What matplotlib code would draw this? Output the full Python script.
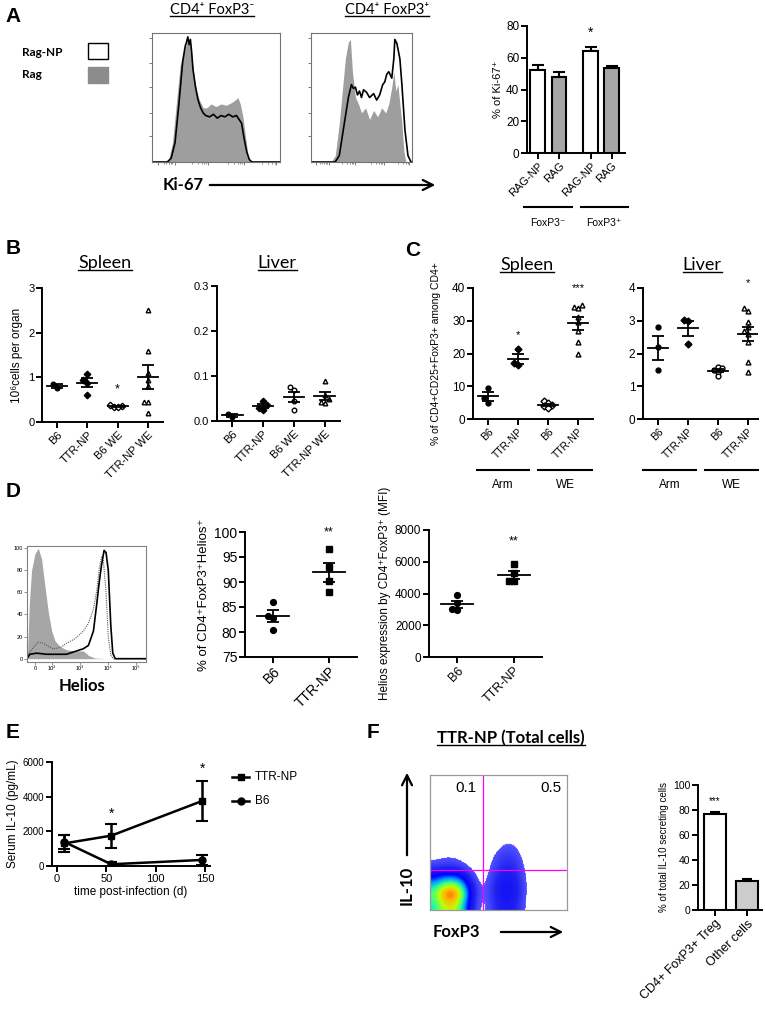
import numpy as np
import matplotlib.pyplot as plt
from matplotlib.lines import Line2D
from matplotlib.patches import Rectangle
from matplotlib.colors import LinearSegmentedColormap

plt.rcParams['font.family'] = ['Liberation Sans', 'DejaVu Sans']
CAL = ['Lato', 'DejaVu Sans']

# ---------------- data ----------------
# A: Ki-67 histograms (x = fraction of the Ki-67 axis, y = fraction of max)
ki1_rag_x = [0, .10, .13, .16, .19, .22, .25, .27, .28, .29, .30, .31, .33, .35, .37, .40, .43, .46,
             .50, .54, .58, .62, .65, .67, .69, .71, .73, .75, .77, 1.0]
ki1_rag_y = [0, 0, .02, .15, .45, .75, .85, .92, .95, .93, .90, .82, .65, .55, .48, .42, .42, .45,
             .43, .45, .44, .46, .48, .50, .45, .35, .20, .05, 0, 0]
ki1_np_x = [0, .12, .15, .18, .21, .24, .26, .27, .28, .29, .30, .31, .32, .34, .36, .38, .40, .42,
            .45, .48, .51, .54, .57, .60, .63, .66, .68, .70, .72, .74, .76, .78, 1.0]
ki1_np_y = [0, 0, .03, .15, .45, .78, .90, .93, .97, .91, .95, .85, .72, .58, .48, .42, .38, .36,
            .35, .37, .34, .36, .35, .37, .35, .36, .33, .30, .18, .08, .02, 0, 0]
ki2_rag_x = [0, .20, .24, .28, .31, .34, .37, .39, .41, .44, .47, .50, .54, .58, .62, .66, .70,
             .74, .77, .80, .82, .84, .86, .88, .90, .92, .94, 1.0]
ki2_rag_y = [0, 0, .05, .30, .55, .80, .93, .95, .70, .50, .45, .38, .42, .33, .40, .35, .42,
             .38, .45, .58, .70, .55, .60, .45, .30, .08, 0, 0]
ki2_np_x = [0, .24, .28, .32, .35, .37, .40, .42, .44, .46, .48, .50, .52, .55, .58, .62, .65,
            .68, .71, .73, .75, .77, .80, .82, .83, .85, .86, .88, .90, .93, .96, .99, 1.0]
ki2_np_y = [0, 0, .05, .25, .40, .50, .60, .57, .58, .52, .55, .50, .56, .54, .50, .53, .48,
            .52, .60, .62, .68, .70, .65, .80, .95, .92, .88, .80, .60, .25, .05, 0, 0]
ki_labels = ['RAG-NP', 'RAG', 'RAG-NP', 'RAG']
ki_vals = [52, 48, 64, 53.5]
ki_err = [3.5, 3, 2.5, 1]

# B: 10^6 cells per organ
b_groups = ['B6', 'TTR-NP', 'B6 WE', 'TTR-NP WE']
spleen_b6 = [0.76, 0.86]
spleen_ttr = [1.07, 0.95, 0.88, 0.60]
spleen_b6we = [0.37, 0.34, 0.35, 0.33]
spleen_ttrwe = [2.5, 1.6, 1.1, 0.95, 0.8, 0.45, 0.45, 0.2]
liver_b6 = [0.010, 0.015]
liver_ttr = [0.045, 0.036, 0.030, 0.025]
liver_b6we = [0.075, 0.068, 0.045, 0.025]
liver_ttrwe = [0.088, 0.058, 0.050, 0.042, 0.040]

# C: % CD4+CD25+FoxP3+ among CD4+
c_groups = ['B6', 'TTR-NP', 'B6', 'TTR-NP']
cs_b6 = [9.5, 6.3, 4.9]
cs_ttr = [21.5, 17.2, 16.5]
cs_b6we = [5.4, 4.8, 4.3, 3.9, 3.3]
cs_ttrwe = [34.8, 34.2, 33.8, 31.0, 29.5, 27.0, 23.5, 20.0]
cl_b6 = [2.8, 2.2, 1.5]
cl_ttr = [3.02, 2.98, 2.3]
cl_b6we = [1.6, 1.55, 1.5, 1.45, 1.3]
cl_ttrwe = [3.4, 3.3, 2.95, 2.8, 2.7, 2.6, 2.35, 1.75, 1.45]

# D: Helios histogram (x in decades, 0 drawn at 1.39) and dot plots
helios_iso_x = [1.10, 1.12, 1.19, 1.27, 1.39, 1.51, 1.63, 1.75, 1.87, 1.99, 2.11, 2.29, 2.52, 2.82,
                3.12, 3.30, 3.54, 3.95, 5.36]
helios_iso_y = [0, 0, 50, 80, 95, 100, 90, 65, 42, 25, 16, 11, 8, 7, 7, 3, 0.5, 0, 0]
helios_dot_x = [1.10, 1.15, 1.33, 1.51, 1.69, 1.87, 2.05, 2.29, 2.52, 2.82, 3.12, 3.30, 3.48, 3.60,
                3.69, 3.77, 3.83, 3.93, 4.01, 4.10, 4.19, 5.36]
helios_dot_y = [0, 4, 10, 15, 14, 11, 9, 10, 14, 18, 25, 32, 45, 62, 82, 92, 90, 60, 20, 3, 0, 0]
helios_ttr_x = [1.10, 1.21, 1.45, 1.81, 2.17, 2.52, 2.88, 3.12, 3.30, 3.48, 3.60, 3.69, 3.77, 3.86,
                3.93, 4.01, 4.10, 4.17, 4.26, 5.36]
helios_ttr_y = [0, 4, 5, 4, 4, 4, 7, 9, 12, 25, 50, 70, 85, 98, 96, 80, 30, 5, 0, 0]
d_groups = ['B6', 'TTR-NP']
helios_pct_b6 = [86.1, 83.2, 82.9, 80.4]
helios_pct_ttr = [96.6, 93.0, 90.2, 88.0]
helios_mfi_b6 = [3900, 3400, 3050, 2950]
helios_mfi_ttr = [5870, 5300, 4800, 4780]

# E: serum IL-10
e_days = [7, 55, 147]
e_ttr = [1300, 1750, 3750]
e_ttr_err = [500, 700, 1150]
e_b6 = [1400, 100, 350]
e_b6_err = [400, 150, 300]

# F: IL-10 vs FoxP3 event density (rows top -> bottom) and bar chart
il10_grid = [
    [0, 0, 0, 0, 0, 0, 0, 0, 0, 0, 0, 0],
    [0, 0, 0, 0, 0, 0, 0, 0, 0, 0, 0, 0],
    [0, 0, 0, 0, 0, 0, 0, 0, 0, 0, 0, 0],
    [0, 0, 0, 0, 0, 0, 0, 0, 0, 0, 0, 0],
    [0, 0, 0, 0, 0, 0, 0, 0, 0, 0, 0, 0],
    [0, 0, 0, 0, 0, 0, 0.5, 0.4, 0, 0, 0, 0],
    [0.3, 0.4, 0.3, 0, 0, 0.4, 1.0, 0.9, 0.2, 0, 0, 0],
    [0.6, 0.8, 0.7, 0.3, 0, 0.8, 1.4, 1.2, 0.4, 0, 0, 0],
    [1.5, 1.8, 1.6, 0.9, 0.2, 1.0, 1.8, 1.6, 0.5, 0, 0, 0],
    [4.0, 5.5, 5.0, 1.8, 0.3, 1.3, 2.2, 1.9, 0.6, 0, 0, 0],
    [6.0, 10.0, 9.0, 2.5, 0.4, 1.4, 2.4, 2.0, 0.6, 0, 0, 0],
    [5.0, 7.5, 6.5, 2.0, 0.3, 1.2, 2.0, 1.7, 0.5, 0, 0, 0],
]
gate_x, gate_y = 0.387, 0.296
quad_labels = ['0.1', '0.5']
f_labels = ['CD4+ FoxP3+ Treg', 'Other cells']
f_vals = [77, 23]
f_err = [1.5, 1.5]

# ---------------- helpers ----------------
W, H = 765, 1019
fig = plt.figure(figsize=(W / 100, H / 100), dpi=100)
underlined = []


def px_axes(x0, y0, x1, y1):
    return fig.add_axes([x0 / W, 1 - y1 / H, (x1 - x0) / W, (y1 - y0) / H])


def ftext(x, y, s, **kw):
    return fig.text(x / W, 1 - y / H, s, **kw)


def fline(x0, x1, y0, y1, **kw):
    fig.add_artist(Line2D([x0 / W, x1 / W], [1 - y0 / H, 1 - y1 / H],
                          transform=fig.transFigure, **kw))


def farrow(x0, y0, x1, y1):
    fig.add_artist(plt.matplotlib.patches.FancyArrowPatch(
        (x0 / W, 1 - y0 / H), (x1 / W, 1 - y1 / H), transform=fig.transFigure,
        arrowstyle='->', mutation_scale=18, lw=1.6, color='black'))


def prism(ax, lw=1.4, fs=7.5):
    for s in ['top', 'right']:
        ax.spines[s].set_visible(False)
    for s in ['left', 'bottom']:
        ax.spines[s].set_linewidth(lw)
    ax.tick_params(width=lw, length=4, direction='out', labelsize=fs, pad=1.5)


def swarm(vals, tol, w):
    offs = np.zeros(len(vals))
    placed = []
    for i in np.argsort(vals):
        for c in [0, -1, 1, -2, 2, -3, 3]:
            if all(abs(vals[i] - vals[j]) > tol or abs(c * w - offs[j]) > w * 0.9 for j in placed):
                offs[i] = c * w
                break
        placed.append(i)
    return offs


def dots(ax, pos, vals, marker, filled, ms=3.6, tol=0.1, w=0.13, half=0.33):
    vals = np.asarray(vals, float)
    offs = swarm(vals, tol, w)
    ax.plot(pos + offs, vals, ls='none', marker=marker, ms=ms, mew=1.0,
            mfc='black' if filled else 'white', mec='black', zorder=3)
    m = vals.mean()
    se = vals.std(ddof=1) / np.sqrt(len(vals))
    ax.plot([pos - half, pos + half], [m, m], color='black', lw=1.3, zorder=4)
    ax.errorbar(pos, m, yerr=se, color='black', lw=1.3, capsize=4, capthick=1.3, zorder=4)


def letter(x, y, s):
    ftext(x, y, s, fontsize=15, fontweight='bold', va='center', ha='left')


def title(x, y, s, fs=13, weight='normal'):
    t = ftext(x, y, s, fontsize=fs, family=CAL, fontweight=weight, ha='center', va='center')
    underlined.append(t)


def rot_labels(ax, labels, fs):
    ax.set_xticklabels(labels, rotation=45, ha='right', rotation_mode='anchor', fontsize=fs)


# ---------------- panel A ----------------
letter(5, 16, 'A')
title(212, 10, 'CD4⁺ FoxP3⁻', fs=10.5)
title(387, 10, 'CD4⁺ FoxP3⁺', fs=10.5)
ftext(22, 52, 'Rag-NP', fontsize=8.5, family=CAL, fontweight='bold', va='center')
ftext(22, 74, 'Rag', fontsize=8.5, family=CAL, fontweight='bold', va='center')
fig.add_artist(Rectangle((88 / W, 1 - 59 / H), 20 / W, 16 / H, transform=fig.transFigure,
                         fc='white', ec='black', lw=1))
fig.add_artist(Rectangle((88 / W, 1 - 83 / H), 20 / W, 16 / H, transform=fig.transFigure,
                         fc='0.55', ec='0.55', lw=1))

for (x0, x1), rx, ry, nx, ny in [((152, 280), ki1_rag_x, ki1_rag_y, ki1_np_x, ki1_np_y),
                                  ((311, 412), ki2_rag_x, ki2_rag_y, ki2_np_x, ki2_np_y)]:
    ax = px_axes(x0, 33, x1, 162)
    ax.fill_between(rx, ry, color='0.62', lw=0)
    ax.plot(nx, ny, color='black', lw=1.2)
    ax.set_xlim(0, 1)
    ax.set_ylim(0, 1)
    for s in ax.spines.values():
        s.set_color('0.45')
        s.set_linewidth(0.8)
    ax.set_yticks([0.2, 0.38, 0.58, 0.77, 0.96])
    ax.set_xticks([0.05, 0.18, 0.44, 0.72, 0.97])
    ax.set_xticks([0.09, 0.11, 0.13, 0.15, 0.16, 0.31, 0.36, 0.39, 0.41, 0.42, 0.59, 0.64,
                   0.67, 0.69, 0.70, 0.86, 0.91, 0.94, 0.96], minor=True)
    ax.tick_params(length=2.5, width=0.6, color='0.4', labelleft=False, labelbottom=False)
    ax.tick_params(which='minor', length=1.5, width=0.5, color='0.4')

ftext(163, 185, 'Ki-67', fontsize=12, family=CAL, fontweight='bold', va='center')
farrow(207, 185, 438, 185)

ax = px_axes(527, 26, 625, 153)
prism(ax, fs=8.5)
ki_pos = [0, 1, 2.5, 3.5]
ki_col = ['white', '0.65', 'white', '0.65']
ax.bar(ki_pos, ki_vals, width=0.71, color=ki_col, edgecolor='black', lw=1.5, zorder=2)
ax.errorbar(ki_pos, ki_vals, yerr=[[0] * 4, ki_err], fmt='none', ecolor='black', lw=1.5,
            capsize=4, capthick=1.5, zorder=1)
ax.text(2.5, 76, '*', ha='center', va='center', fontsize=10)
ax.set_xlim(-0.52, 4.14)
ax.set_ylim(0, 80)
ax.set_yticks([0, 20, 40, 60, 80])
ax.set_xticks(ki_pos)
rot_labels(ax, ki_labels, 8)
ax.set_ylabel('% of Ki-67⁺', fontsize=8, labelpad=2)
fline(524, 572, 207, 207, color='black', lw=1.5)
fline(581, 628, 207, 207, color='black', lw=1.5)
ftext(548, 223, 'FoxP3⁻', fontsize=7.5, ha='center', va='center')
ftext(604, 223, 'FoxP3⁺', fontsize=7.5, ha='center', va='center')

# ---------------- panel B ----------------
letter(6, 249, 'B')
title(105, 263, 'Spleen')
title(277, 263, 'Liver')
b_sets = [((42, 288, 163, 422), 3, [0, 1, 2, 3], [spleen_b6, spleen_ttr, spleen_b6we, spleen_ttrwe]),
          ((217, 286, 340, 421), 0.3, [0.0, 0.1, 0.2, 0.3], [liver_b6, liver_ttr, liver_b6we, liver_ttrwe])]
b_marks = [[('o', True), ('D', True), ('D', False), ('^', False)],
           [('o', True), ('D', True), ('o', False), ('^', False)]]
for k, (box, top, yt, groups) in enumerate(b_sets):
    ax = px_axes(*box)
    prism(ax, fs=8)
    for i, vals in enumerate(groups):
        mk, fill = b_marks[k][i]
        dots(ax, i, vals, mk, fill, ms=3.3, tol=top * 0.04, w=0.13)
    ax.set_xlim(-0.5, 3.5)
    ax.set_ylim(0, top)
    ax.set_yticks(yt)
    if k == 1:
        ax.set_yticklabels(['0.0', '0.1', '0.2', '0.3'])
    ax.set_xticks(range(4))
    rot_labels(ax, b_groups, 8)
    if k == 0:
        ax.text(2, 0.72, '*', ha='center', va='center', fontsize=9)
        ax.set_ylabel('10⁶cells per organ', fontsize=8.5, labelpad=4)

# ---------------- panel C ----------------
letter(405, 250, 'C')
title(527, 265, 'Spleen')
title(702, 265, 'Liver')
c_sets = [((473, 288, 593, 419), 40, [0, 10, 20, 30, 40], [cs_b6, cs_ttr, cs_b6we, cs_ttrwe], (-0.5, 3.5)),
          ((643, 288, 758, 419), 4, [0, 1, 2, 3, 4], [cl_b6, cl_ttr, cl_b6we, cl_ttrwe], (-0.5, 3.33))]
c_marks = [[('o', True), ('D', True), ('D', False), ('^', False)],
           [('o', True), ('D', True), ('o', False), ('^', False)]]
for k, (box, top, yt, groups, xl) in enumerate(c_sets):
    ax = px_axes(*box)
    prism(ax, fs=8.5)
    for i, vals in enumerate(groups):
        mk, fill = c_marks[k][i]
        dots(ax, i, vals, mk, fill, ms=3.5, tol=top * 0.035, w=0.14)
    ax.set_xlim(*xl)
    ax.set_ylim(0, top)
    ax.set_yticks(yt)
    ax.set_xticks(range(4))
    rot_labels(ax, c_groups, 7.5)
    if k == 0:
        ax.text(1, 25.5, '*', ha='center', va='center', fontsize=8)
        ax.text(3, 40, '***', ha='center', va='center', fontsize=8)
        ax.set_ylabel('% of CD4+CD25+FoxP3+ among CD4+', fontsize=7.5, labelpad=8)
    else:
        ax.text(3, 4.15, '*', ha='center', va='center', fontsize=8)
for (a0, a1), (w0, w1) in [((477, 529), (538, 592)), ((643, 696), (705, 758))]:
    fline(a0, a1, 470, 470, color='black', lw=1.5)
    fline(w0, w1, 470, 470, color='black', lw=1.5)
    ftext((a0 + a1) / 2, 485, 'Arm', fontsize=8.5, ha='center', va='center')
    ftext((w0 + w1) / 2, 485, 'WE', fontsize=8.5, ha='center', va='center')

# ---------------- panel D ----------------
letter(6, 492, 'D')
ax = px_axes(27, 546, 146, 662)
ax.fill_between(helios_iso_x, helios_iso_y, color='0.65', lw=0)
ax.plot(helios_dot_x, helios_dot_y, color='0.35', lw=0.8, ls=(0, (1, 1)))
ax.plot(helios_ttr_x, helios_ttr_y, color='black', lw=1.2)
ax.set_xlim(1.107, 5.357)
ax.set_ylim(-3, 102)
for s in ax.spines.values():
    s.set_color('0.5')
    s.set_linewidth(0.8)
ax.set_xticks([1.39, 2, 3, 4, 5])
ax.set_xticklabels(['0', '10²', '10³', '10⁴', '10⁵'])
ax.set_yticks([0, 20, 40, 60, 80, 100])
ax.tick_params(labelsize=4, length=2, width=0.5, color='0.4', pad=1)
ftext(82, 686, 'Helios', fontsize=12, family=CAL, fontweight='bold', ha='center', va='center')

ax = px_axes(245, 532, 357, 657)
prism(ax, fs=10)
dots(ax, 0, helios_pct_b6, 'o', True, ms=4.2, tol=0.9, w=0.09, half=0.28)
dots(ax, 1, helios_pct_ttr, 's', True, ms=4.2, tol=0.9, w=0.09, half=0.28)
ax.text(1, 100, '**', ha='center', va='center', fontsize=9)
ax.set_xlim(-0.5, 1.5)
ax.set_ylim(75, 100)
ax.set_yticks([75, 80, 85, 90, 95, 100])
ax.set_xticks([0, 1])
rot_labels(ax, d_groups, 10)
ax.set_ylabel('% of CD4⁺FoxP3⁺Helios⁺', fontsize=9.5, labelpad=3)

ax = px_axes(429, 530, 542, 657)
prism(ax, fs=8.5)
dots(ax, 0, helios_mfi_b6, 'o', True, ms=4.2, tol=200, w=0.09, half=0.28)
dots(ax, 1, helios_mfi_ttr, 's', True, ms=4.2, tol=200, w=0.09, half=0.28)
ax.text(1, 7300, '**', ha='center', va='center', fontsize=9)
ax.set_xlim(-0.5, 1.5)
ax.set_ylim(0, 8000)
ax.set_yticks([0, 2000, 4000, 6000, 8000])
ax.set_xticks([0, 1])
rot_labels(ax, d_groups, 9)
ax.set_ylabel('Helios expression by CD4⁺FoxP3⁺ (MFI)', fontsize=8.5, labelpad=3)

# ---------------- panel E ----------------
letter(6, 733, 'E')
ax = px_axes(52, 762, 210, 866)
prism(ax, fs=7)
ax.errorbar(e_days, e_ttr, yerr=e_ttr_err, color='black', lw=1.8, marker='s', ms=5,
            capsize=4, capthick=1.5)
ax.errorbar(e_days, e_b6, yerr=e_b6_err, color='black', lw=1.8, marker='o', ms=5,
            capsize=4, capthick=1.5)
ax.text(55, 3000, '*', ha='center', va='center', fontsize=10)
ax.text(147, 5600, '*', ha='center', va='center', fontsize=10)
ax.set_xlim(-5, 155)
ax.set_ylim(0, 6000)
ax.set_xticks([0, 50, 100, 150])
ax.set_yticks([0, 2000, 4000, 6000])
ax.tick_params(axis='x', labelsize=8)
ax.set_xlabel('time post-infection (d)', fontsize=8.5, labelpad=2)
ax.set_ylabel('Serum IL-10 (pg/mL)', fontsize=8.5, labelpad=3)
for yy, mk, lab in [(777, 's', 'TTR-NP'), (801, 'o', 'B6')]:
    fig.add_artist(Line2D([232 / W, 249 / W], [1 - yy / H] * 2, transform=fig.transFigure,
                          color='black', lw=1.8))
    fig.add_artist(Line2D([240.5 / W], [1 - yy / H], transform=fig.transFigure,
                          color='black', marker=mk, ms=5, ls='none'))
    ftext(255, yy, lab, fontsize=8.5, va='center')

# ---------------- panel F ----------------
letter(367, 732, 'F')
title(511, 738, 'TTR-NP (Total cells)', fs=12, weight='bold')
ax = px_axes(430, 775, 567, 910)
cmap = LinearSegmentedColormap.from_list('flow', [
    (0.0, 'white'), (0.07, 'white'), (0.075, '#5050ff'), (0.16, '#2020f0'), (0.30, '#0000ff'),
    (0.42, '#00a0ff'), (0.55, '#30ff90'), (0.68, '#c0ff00'), (0.80, '#ffb000'),
    (0.92, '#ff2000'), (1.0, '#c00000')])
ax.imshow(il10_grid, extent=[0, 1, 0, 1], origin='upper', cmap=cmap, vmin=0, vmax=10,
          interpolation='bicubic', interpolation_stage='data', aspect='auto')
ax.axvline(gate_x, color='magenta', lw=0.9)
ax.axhline(gate_y, color='magenta', lw=0.9)
ax.text(0.26, 0.9, quad_labels[0], fontsize=11, ha='center', va='center')
ax.text(0.88, 0.9, quad_labels[1], fontsize=11, ha='center', va='center')
ax.set_xlim(0, 1)
ax.set_ylim(0, 1)
ax.set_xticks([])
ax.set_yticks([])
for s in ax.spines.values():
    s.set_color('0.6')
    s.set_linewidth(0.9)
farrow(407, 858, 407, 770)
ftext(407, 885, 'IL-10', fontsize=12, family=CAL, fontweight='bold', rotation=90,
      ha='center', va='center')
ftext(433, 932, 'FoxP3', fontsize=12, family=CAL, fontweight='bold', va='center')
farrow(498, 932, 566, 932)

ax = px_axes(698, 785, 762, 910)
prism(ax, fs=7.5)
ax.bar([0, 1], f_vals, width=0.66, color=['white', '0.8'], edgecolor='black', lw=1.5, zorder=2)
ax.errorbar([0, 1], f_vals, yerr=[[0, 0], f_err], fmt='none', ecolor='black', lw=1.5,
            capsize=3.5, capthick=1.5, zorder=1)
ax.text(0, 87, '***', ha='center', va='center', fontsize=7)
ax.set_xlim(-0.53, 1.47)
ax.set_ylim(0, 100)
ax.set_yticks([0, 20, 40, 60, 80, 100])
ax.set_xticks([0, 1])
rot_labels(ax, f_labels, 9)
ax.set_ylabel('% of total IL-10 secreting cells', fontsize=7, labelpad=3)

# underlines
fig.canvas.draw()
rend = fig.canvas.get_renderer()
for t in underlined:
    bb = t.get_window_extent(rend)
    fig.add_artist(Line2D([bb.x0 / W, bb.x1 / W], [(bb.y0 + 1) / H] * 2,
                          transform=fig.transFigure, color='black', lw=1.0))

fig.savefig('out.png', dpi=100)
